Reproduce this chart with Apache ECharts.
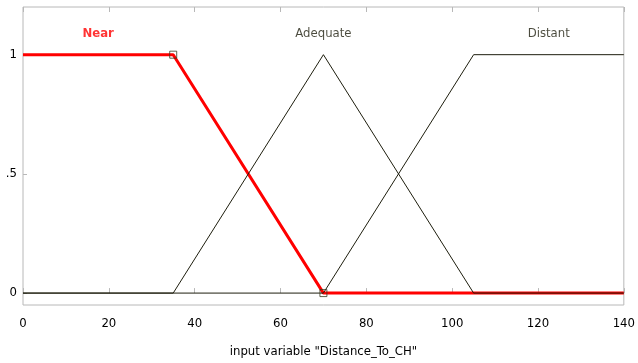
<!DOCTYPE html>
<html>
<head>
<meta charset="utf-8">
<script src="https://cdn.jsdelivr.net/npm/echarts@6/dist/echarts.min.js"></script>
<style>
  html, body { margin: 0; padding: 0; background: #fff; }
  #chart { width: 638px; height: 363px; }
</style>
</head>
<body>
<div id="chart"></div>
<script>
// Membership functions of the input variable "Distance_To_CH"
const mfNames = ['Near', 'Adequate', 'Distant'];
const mfTypes = ['trapmf', 'trimf', 'trapmf'];
const mfParams = [
  [0, 0, 35, 70],
  [35, 70, 105],
  [70, 105, 140, 140]
];
const xRange = [0, 140];
const yTicks = [0, 0.5, 1];
const yTickLabels = ['0', '.5', '1'];
const selectedMf = 0; // highlighted MF (drawn in red with vertex handles)
const varLabel = 'input variable "Distance_To_CH"';

const FONT = '"DejaVu Sans Condensed", "Liberation Sans Narrow", "Liberation Sans", Arial, sans-serif';
const DARK = '#1e1e0e';
const RED = '#ff0000';
const FRAME = '#b8b8b8';

// corner points of each MF polyline across the full range
function mfPoints(type, p) {
  if (type === 'trimf') {
    return [[xRange[0], 0], [p[0], 0], [p[1], 1], [p[2], 0], [xRange[1], 0]];
  }
  const l = p[0] === p[1] ? 1 : 0, r = p[2] === p[3] ? 1 : 0;
  return [[xRange[0], l], [p[0], l], [p[1], 1], [p[2], 1], [p[3], r], [xRange[1], r]];
}
// label sits over the middle of the plateau / peak
function mfCenter(type, p) {
  return type === 'trimf' ? p[1] : (p[1] + p[2]) / 2;
}

const series = [];
mfNames.forEach((name, i) => {
  const sel = i === selectedMf;
  series.push({
    type: 'line',
    name: name,
    data: mfPoints(mfTypes[i], mfParams[i]),
    symbol: 'none',
    z: sel ? 2 : 3,
    lineStyle: { color: sel ? RED : DARK, width: sel ? 3 : 1 },
    silent: true,
    animation: false
  });
  series.push({
    type: 'scatter',
    data: [[mfCenter(mfTypes[i], mfParams[i]), 1.088]],
    symbolSize: 0,
    z: 5,
    label: {
      show: true,
      position: 'inside',
      formatter: name,
      color: sel ? RED : DARK,
      fontWeight: sel ? 'bold' : 'normal',
      fontFamily: FONT,
      fontSize: 13
    },
    animation: false
  });
});
// vertex handles of the selected MF (its sloped corners)
const sp = mfParams[selectedMf];
series.push({
  type: 'scatter',
  data: [[sp[2], 1], [sp[3], 0]],
  symbol: 'rect',
  symbolSize: 7,
  z: 6,
  itemStyle: { color: 'rgba(0,0,0,0)', borderColor: '#3a3a20', borderWidth: 1 },
  animation: false
});

const chart = echarts.init(document.getElementById('chart'), null, { renderer: 'canvas' });
chart.setOption({
  backgroundColor: '#fff',
  animation: false,
  grid: {
    left: 23, right: 10, top: 7, bottom: 57,
    show: true, borderColor: FRAME, borderWidth: 1, backgroundColor: 'transparent'
  },
  xAxis: [{
    type: 'value', min: xRange[0], max: xRange[1], interval: 20,
    position: 'bottom',
    name: varLabel, nameLocation: 'middle', nameGap: 40,
    nameTextStyle: { color: '#000', fontFamily: FONT, fontSize: 13 },
    axisLine: { show: false },
    axisTick: { show: true, inside: true, length: 5, lineStyle: { color: FRAME } },
    axisLabel: { color: '#000', fontFamily: FONT, fontSize: 13, margin: 12 },
    splitLine: { show: false }
  }, {
    type: 'value', min: xRange[0], max: xRange[1], interval: 20,
    position: 'top',
    axisLine: { show: false },
    axisTick: { show: true, inside: true, length: 5, lineStyle: { color: FRAME } },
    axisLabel: { show: false },
    splitLine: { show: false }
  }],
  yAxis: {
    type: 'value', min: -0.05, max: 1.2,
    axisLine: { show: false },
    axisTick: { show: true, inside: true, length: 4, customValues: yTicks, lineStyle: { color: FRAME } },
    splitLine: { show: false },
    axisLabel: {
      customValues: yTicks,
      formatter: v => { const k = yTicks.indexOf(v); return k >= 0 ? yTickLabels[k] : ''; },
      color: '#000', fontFamily: FONT, fontSize: 13, margin: 6
    }
  },
  series: series
});
</script>
</body>
</html>
